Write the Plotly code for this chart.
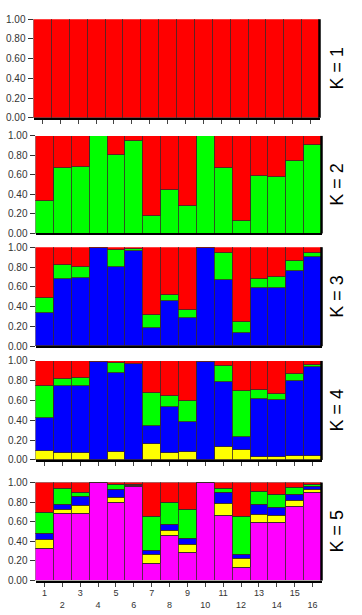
import plotly.graph_objects as go

pops = ["1", "2", "3", "4", "5", "6", "7", "8", "9", "10", "11", "12", "13", "14", "15", "16"]

# K = 1
k1_red = [1.0] * 16

# K = 2
k2_green = [0.329, 0.668, 0.681, 0.995, 0.802, 0.953, 0.178, 0.450, 0.285, 0.995, 0.668, 0.128, 0.590, 0.580, 0.748, 0.903]

# K = 3 (cumulative tops)
k3_blue_top = [0.336, 0.678, 0.688, 0.995, 0.796, 0.955, 0.184, 0.457, 0.285, 0.995, 0.668, 0.128, 0.589, 0.582, 0.753, 0.901]
k3_green_top = [0.490, 0.819, 0.799, 0.995, 0.967, 0.975, 0.309, 0.513, 0.365, 0.995, 0.944, 0.240, 0.681, 0.697, 0.855, 0.944]

# K = 4 (cumulative tops)
k4_yellow_top = [0.096, 0.076, 0.066, 0.0, 0.083, 0.0, 0.158, 0.076, 0.083, 0.0, 0.129, 0.106, 0.030, 0.030, 0.043, 0.036]
k4_blue_top = [0.426, 0.743, 0.749, 0.995, 0.875, 0.965, 0.340, 0.538, 0.380, 0.995, 0.789, 0.228, 0.617, 0.611, 0.802, 0.940]
k4_green_top = [0.746, 0.818, 0.828, 0.995, 0.980, 0.965, 0.680, 0.644, 0.597, 0.995, 0.947, 0.696, 0.703, 0.667, 0.868, 0.960]

# K = 5 (cumulative tops)
k5_magenta_top = [0.323, 0.680, 0.687, 0.995, 0.800, 0.955, 0.177, 0.460, 0.283, 0.995, 0.667, 0.130, 0.597, 0.587, 0.757, 0.897]
k5_yellow_top = [0.423, 0.723, 0.763, 0.995, 0.843, 0.967, 0.267, 0.510, 0.367, 0.995, 0.787, 0.227, 0.670, 0.663, 0.820, 0.927]
k5_blue_top = [0.477, 0.780, 0.860, 0.995, 0.927, 0.975, 0.310, 0.570, 0.427, 0.995, 0.903, 0.270, 0.777, 0.743, 0.877, 0.960]
k5_green_top = [0.693, 0.937, 0.900, 0.995, 0.977, 0.980, 0.653, 0.793, 0.723, 0.995, 0.937, 0.653, 0.910, 0.877, 0.950, 0.977]

RED, GREEN, BLUE, YELLOW, MAGENTA = "#ff0000", "#00ff00", "#0000ff", "#ffff00", "#ff00ff"


def diffs(tops):
    """turn cumulative tops into stacked segment heights, final one up to 1.0"""
    out = []
    prev = [0.0] * 16
    for t in tops:
        out.append([max(a - b, 0) for a, b in zip(t, prev)])
        prev = t
    out.append([max(1.0 - b, 0) for b in prev])
    return out


panels = [
    ([RED], [k1_red]),
    ([GREEN, RED], diffs([k2_green])),
    ([BLUE, GREEN, RED], diffs([k3_blue_top, k3_green_top])),
    ([YELLOW, BLUE, GREEN, RED], diffs([k4_yellow_top, k4_blue_top, k4_green_top])),
    ([MAGENTA, YELLOW, BLUE, GREEN, RED], diffs([k5_magenta_top, k5_yellow_top, k5_blue_top, k5_green_top])),
]

W, H = 362, 615
# pixel geometry of panels: (left, right, top, bottom)
geom = [(33.5, 319.5, 13.5, 114), (35.5, 321.5, 132.5, 232), (35.5, 321.5, 246, 347),
        (35.5, 321.5, 362, 463), (35.5, 321.5, 486, 586)]
show_xticks = [True, False, False, True, True]

fig = go.Figure()
layout = {}
annotations = []
shapes = []
xs = list(range(16))
tick_text = [p if i % 2 == 0 else "<br>" + p for i, p in enumerate(pops)]

for idx, ((colors, series), (l, r, t, b)) in enumerate(zip(panels, geom)):
    n = idx + 1
    xa = "x" if n == 1 else f"x{n}"
    ya = "y" if n == 1 else f"y{n}"
    for col, vals in zip(colors, series):
        fig.add_trace(go.Bar(x=xs, y=vals, xaxis=xa, yaxis=ya, marker_color=col,
                             marker_line_color="#3a2a2a", marker_line_width=0.8,
                             width=1.0, showlegend=False, hoverinfo="skip"))
    xkey = "xaxis" if n == 1 else f"xaxis{n}"
    ykey = "yaxis" if n == 1 else f"yaxis{n}"
    layout[xkey] = dict(domain=[l / W, r / W], anchor=ya, range=[-0.5, 15.5],
                        showgrid=False, zeroline=False, showline=True, linecolor="black", linewidth=2,
                        ticks="outside" if show_xticks[idx] else "", ticklen=4, tickcolor="#444",
                        tickvals=xs, ticktext=tick_text if n == 5 else [""] * 16,
                        showticklabels=(n == 5), ticklabelstandoff=-1,
                        tickfont=dict(family="Liberation Sans, Arial", size=9, color="#333"),
                        fixedrange=True)
    layout[ykey] = dict(domain=[1 - b / H, 1 - t / H], anchor=xa, range=[0, 1.0],
                        tickvals=[0, 0.2, 0.4, 0.6, 0.8, 1.0], tickformat=".2f",
                        ticks="outside", ticklen=5, tickcolor="#333",
                        showgrid=False, zeroline=False, showline=False,
                        tickfont=dict(family="Liberation Sans, Arial", size=10, color="#333"),
                        fixedrange=True)
    shapes.append(dict(type="line", xref=f"{xa} domain", yref=f"{ya} domain",
                       x0=1, x1=1, y0=0, y1=1, line=dict(color="black", width=2.5)))
    annotations.append(dict(x=337 / W, y=1 - (t + b) / 2 / H, xref="paper", yref="paper",
                            xanchor="center", yanchor="middle",
                            text=f"K = {n}", textangle=-90, showarrow=False,
                            font=dict(family="Liberation Sans, Arial", size=18, color="black")))

fig.update_layout(width=W, height=H, margin=dict(l=0, r=0, t=0, b=0),
                  barmode="stack", bargap=0, plot_bgcolor="white", paper_bgcolor="white",
                  annotations=annotations, shapes=shapes, **layout)

fig.write_html("out.html", config={"displayModeBar": False},
               post_script="document.body.style.margin='0';document.body.style.overflow='hidden';")
